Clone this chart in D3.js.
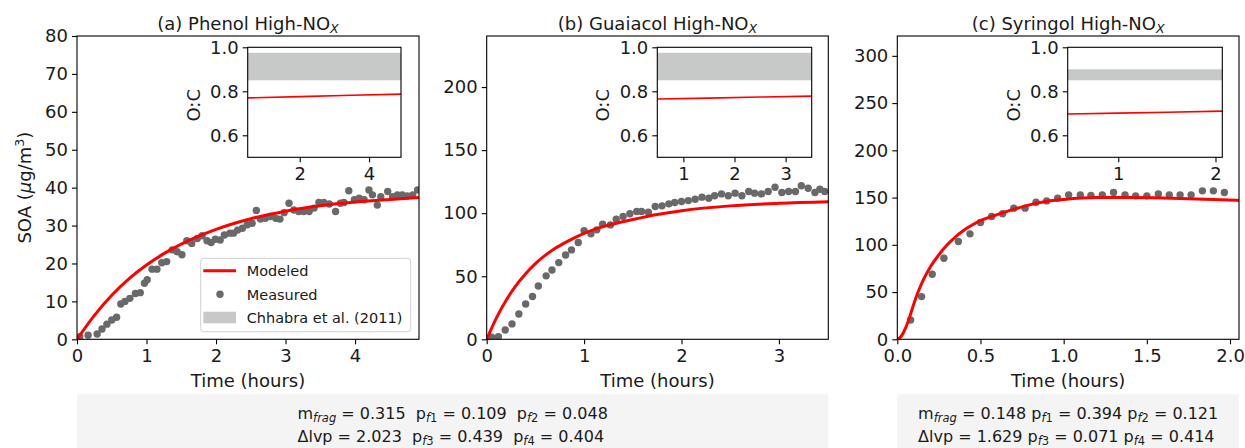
<!DOCTYPE html>
<html>
<head>
<meta charset="utf-8">
<script src="https://cdn.jsdelivr.net/npm/d3@7"></script>
<style>
  body { margin: 0; background: #fff; }
  svg { display: block; font-family: "DejaVu Sans", sans-serif; }
</style>
</head>
<body>
<script>
// ---- Measured SOA (µg/m³) vs time (hours) ----
const phenolTime = [0.04,0.16,0.29,0.36,0.43,0.50,0.57,0.63,0.69,0.76,0.84,0.91,0.97,1.01,1.08,1.15,1.22,1.29,1.37,1.44,1.51,1.58,1.65,1.73,1.80,1.87,1.93,1.99,2.06,2.12,2.20,2.25,2.31,2.38,2.45,2.52,2.58,2.64,2.71,2.78,2.86,2.92,2.98,3.05,3.12,3.19,3.26,3.34,3.41,3.48,3.55,3.63,3.72,3.79,3.84,3.91,3.99,4.06,4.13,4.20,4.25,4.32,4.37,4.47,4.54,4.61,4.68,4.75,4.83,4.90];
const phenolSOA = [0.7,1.1,1.4,2.7,4.0,5.1,5.8,9.3,10.0,10.8,12.1,12.3,14.8,15.7,18.5,18.5,20.2,20.5,23.6,23.1,22.3,26.0,25.3,26.6,27.3,26.0,25.5,26.4,26.2,27.5,28.0,28.0,28.8,29.3,30.2,30.6,34.0,31.7,31.9,32.4,31.9,31.7,33.4,35.9,34.1,33.7,33.7,33.7,34.6,36.1,36.1,35.7,33.7,35.9,36.1,39.2,36.8,37.2,36.8,39.4,38.1,35.4,37.6,39.0,37.6,38.1,38.1,37.8,38.1,39.4];

const guaiacolTime = [0.05,0.12,0.19,0.26,0.33,0.40,0.47,0.53,0.61,0.67,0.74,0.81,0.87,0.94,1.00,1.07,1.13,1.19,1.27,1.33,1.40,1.47,1.54,1.59,1.66,1.73,1.80,1.87,1.93,2.00,2.07,2.14,2.21,2.28,2.34,2.41,2.48,2.55,2.62,2.69,2.75,2.82,2.89,2.96,3.03,3.10,3.17,3.23,3.30,3.37,3.42,3.47];
const guaiacolSOA = [1.6,2.1,7.4,12.2,20.1,28.0,33.9,42.3,50.3,55.0,60.8,66.9,70.9,76.7,86.2,83.6,86.8,91.3,90.7,95.2,97.4,99.5,101.3,101.3,100.8,105.3,105.8,107.4,108.5,109.3,110.0,111.0,112.7,111.9,113.8,115.3,113.8,115.9,113.8,117.2,115.9,115.3,117.2,120.6,116.4,117.2,117.2,121.7,119.8,116.4,119.0,117.2];

const syringolTime = [0.08,0.146,0.21,0.28,0.367,0.437,0.50,0.567,0.633,0.70,0.768,0.834,0.898,0.964,1.03,1.10,1.164,1.232,1.30,1.369,1.433,1.50,1.569,1.635,1.70,1.766,1.834,1.90,1.966];
const syringolSOA = [20.5,45.2,68.9,85.8,103.5,111.6,123.6,129.9,132.8,138.8,138.8,145.1,146.5,149.4,152.9,152.9,152.2,152.9,155.4,152.9,151.8,151.8,153.9,152.9,152.9,152.9,157.1,157.1,155.4];

// ---- Modeled SOA ----
const phenolModelTime = [0,0.25,0.5,0.75,1.0,1.25,1.5,1.75,2.0,2.5,3.0,3.5,4.0,4.5,4.92];
const phenolModelSOA  = [0,6.3,11.6,16.0,19.6,22.6,25.1,27.2,29.0,31.8,33.8,35.2,36.2,36.9,37.4];

const guaiacolModelTime = [0,0.1,0.2,0.3,0.4,0.5,0.6,0.7,0.8,0.9,1.0,1.25,1.5,1.75,2.0,2.5,3.0,3.51];
const guaiacolModelSOA  = [0,17,31,42.5,52,60,66.5,72,76.5,80.5,84,90.5,95,99,102,105.8,107.8,109];

const syringolModelTime = [0,0.025,0.05,0.075,0.1,0.125,0.15,0.2,0.25,0.3,0.35,0.4,0.45,0.5,0.6,0.7,0.8,0.9,1.0,1.2,1.4,1.6,1.8,2.054];
const syringolModelSOA  = [0,3.5,12,24,38,50,60.5,77,89.5,100,108.5,115.5,121,125.5,132,137.5,142.5,146,148,150,150,149.5,148.5,147];

// ---- Modeled O:C and Chhabra et al. (2011) O:C range ----
const phenolOCTime = [0.5,2.0,3.5,4.92];
const phenolOC = [0.770,0.776,0.782,0.787];
const guaiacolOCTime = [0.49,1.5,2.5,3.51];
const guaiacolOC = [0.765,0.769,0.774,0.778];
const syringolOCTime = [0.48,1.0,1.5,2.07];
const syringolOC = [0.697,0.701,0.705,0.710];

const phenolChhabra = [0.85,0.975];
const guaiacolChhabra = [0.85,0.975];
const syringolChhabra = [0.85,0.90];

// ---- Axis ticks ----
const phenolYTicks = [0,10,20,30,40,50,60,70,80];
const guaiacolYTicks = [0,50,100,150,200];
const syringolYTicks = [0,50,100,150,200,250,300];
const phenolXTicks = [0,1,2,3,4];
const guaiacolXTicks = [0,1,2,3];
const syringolXTicks = [0.0,0.5,1.0,1.5,2.0];
const phenolInsetXTicks = [2,4];
const guaiacolInsetXTicks = [1,2,3];
const syringolInsetXTicks = [1,2];
const ocTicks = [0.6,0.8,1.0];

const titles = ["(a) Phenol High-NO", "(b) Guaiacol High-NO", "(c) Syringol High-NO"];
const paramLinesAB = [
  [["m",""],["frag","sub"],[" = 0.315  p",""],["f","subi"],["1","sub"],[" = 0.109  p",""],["f","subi"],["2","sub"],[" = 0.048",""]],
  [["\u0394lvp = 2.023  p",""],["f","subi"],["3","sub"],[" = 0.439  p",""],["f","subi"],["4","sub"],[" = 0.404",""]]
];
const paramLinesC = [
  [["m",""],["frag","sub"],[" = 0.148 p",""],["f","subi"],["1","sub"],[" = 0.394 p",""],["f","subi"],["2","sub"],[" = 0.121",""]],
  [["\u0394lvp = 1.629 p",""],["f","subi"],["3","sub"],[" = 0.071 p",""],["f","subi"],["4","sub"],[" = 0.414",""]]
];

// ---- Layout ----
const W = 1245, H = 448;
const plotTop = 36, plotBottom = 339.3;
const insetTop = 47.3, insetBottom = 157.3;
const RED = "#ff0000", DOT = "#696969", BAND = "#c6c9c7", INK = "#1a1a1a";
const FS = 18;

const panels = [
  { title: titles[0], left: 77, right: 419, xMax: 4.92, yMax: 80,
    xTicks: phenolXTicks, yTicks: phenolYTicks, xFmt: d3.format("d"),
    t: phenolTime, v: phenolSOA, mt: phenolModelTime, mv: phenolModelSOA,
    inset: { left: 247.7, right: 401, xDom: [0.5, 4.92], xTicks: phenolInsetXTicks,
             t: phenolOCTime, v: phenolOC, band: phenolChhabra, xFmt: d3.format("d") },
    ylabel: true, legend: true },
  { title: titles[1], left: 486.7, right: 828.3, xMax: 3.507, yMax: 240.5,
    xTicks: guaiacolXTicks, yTicks: guaiacolYTicks, xFmt: d3.format("d"),
    t: guaiacolTime, v: guaiacolSOA, mt: guaiacolModelTime, mv: guaiacolModelSOA,
    inset: { left: 657.3, right: 811.7, xDom: [0.49, 3.51], xTicks: guaiacolInsetXTicks,
             t: guaiacolOCTime, v: guaiacolOC, band: guaiacolChhabra, xFmt: d3.format("d") } },
  { title: titles[2], left: 897.3, right: 1239, xMax: 2.054, yMax: 321,
    xTicks: syringolXTicks, yTicks: syringolYTicks, xFmt: d3.format(".1f"),
    t: syringolTime, v: syringolSOA, mt: syringolModelTime, mv: syringolModelSOA,
    inset: { left: 1067.7, right: 1222.3, xDom: [0.48, 2.07], xTicks: syringolInsetXTicks,
             t: syringolOCTime, v: syringolOC, band: syringolChhabra, xFmt: d3.format("d") } }
];

const svg = d3.select("body").append("svg").attr("width", W).attr("height", H);
svg.append("rect").attr("width", W).attr("height", H).attr("fill", "#fff");

function styleAxis(g, fs) {
  g.select(".domain").remove();
  g.selectAll(".tick line").attr("stroke", "#000").attr("stroke-width", 1.1);
  g.selectAll(".tick text").attr("fill", INK).attr("font-size", fs)
    .attr("font-family", "DejaVu Sans");
}

function frame(g, x0, y0, x1, y1) {
  g.append("rect").attr("x", x0).attr("y", y0).attr("width", x1 - x0).attr("height", y1 - y0)
    .attr("fill", "none").attr("stroke", "#000").attr("stroke-width", 1.1);
}

panels.forEach((p, i) => {
  const g = svg.append("g");
  const x = d3.scaleLinear().domain([0, p.xMax]).range([p.left, p.right]);
  const y = d3.scaleLinear().domain([0, p.yMax]).range([plotBottom, plotTop]);

  const clipId = "clip" + i;
  svg.append("clipPath").attr("id", clipId).append("rect")
    .attr("x", p.left).attr("y", plotTop).attr("width", p.right - p.left).attr("height", plotBottom - plotTop);

  const data = g.append("g").attr("clip-path", `url(#${clipId})`);
  data.selectAll("circle").data(p.t.map((t, k) => [t, p.v[k]])).join("circle")
    .attr("cx", d => x(d[0])).attr("cy", d => y(d[1])).attr("r", 3.7).attr("fill", DOT);
  const line = d3.line().x(d => x(d[0])).y(d => y(d[1])).curve(d3.curveMonotoneX);
  data.append("path").datum(p.mt.map((t, k) => [t, p.mv[k]]))
    .attr("d", line).attr("fill", "none").attr("stroke", RED).attr("stroke-width", 3);

  const xa = g.append("g").attr("transform", `translate(0,${plotBottom})`)
    .call(d3.axisBottom(x).tickValues(p.xTicks).tickFormat(p.xFmt).tickSize(5).tickPadding(5));
  styleAxis(xa, FS);
  const ya = g.append("g").attr("transform", `translate(${p.left},0)`)
    .call(d3.axisLeft(y).tickValues(p.yTicks).tickFormat(d3.format("d")).tickSize(5).tickPadding(4));
  styleAxis(ya, FS);
  frame(g, p.left, plotTop, p.right, plotBottom);

  // title with subscript X
  const tt = g.append("text").attr("x", (p.left + p.right) / 2).attr("y", 29.5)
    .attr("text-anchor", "middle").attr("font-size", FS).attr("fill", INK).text(p.title);
  tt.append("tspan").attr("font-style", "italic").attr("font-size", 12.6).attr("dy", 3.5).text("X");

  g.append("text").attr("x", (p.left + p.right) / 2).attr("y", 387)
    .attr("text-anchor", "middle").attr("font-size", FS).attr("fill", INK).text("Time (hours)");

  if (p.ylabel) {
    const yl = g.append("text").attr("transform", `translate(31,${(plotTop + plotBottom) / 2}) rotate(-90)`)
      .attr("text-anchor", "middle").attr("font-size", FS).attr("fill", INK);
    yl.append("tspan").text("SOA (");
    yl.append("tspan").attr("font-style", "italic").text("\u03bc");
    yl.append("tspan").text("g/m");
    yl.append("tspan").attr("font-size", 12.6).attr("dy", -7).text("3");
    yl.append("tspan").attr("dy", 7).text(")");
  }

  // inset: O:C ratio
  const ins = p.inset;
  const ix = d3.scaleLinear().domain(ins.xDom).range([ins.left, ins.right]);
  const iy = d3.scaleLinear().domain([0.5, 1.0]).range([insetBottom, insetTop]);
  const ig = g.append("g");
  ig.append("rect").attr("x", ins.left).attr("y", insetTop).attr("width", ins.right - ins.left)
    .attr("height", insetBottom - insetTop).attr("fill", "#fff");
  ig.append("rect").attr("x", ins.left).attr("width", ins.right - ins.left)
    .attr("y", iy(ins.band[1])).attr("height", iy(ins.band[0]) - iy(ins.band[1])).attr("fill", BAND);
  ig.append("path").datum(ins.t.map((t, k) => [t, ins.v[k]]))
    .attr("d", d3.line().x(d => ix(d[0])).y(d => iy(d[1])))
    .attr("fill", "none").attr("stroke", RED).attr("stroke-width", 1.6);
  const ixa = ig.append("g").attr("transform", `translate(0,${insetBottom})`)
    .call(d3.axisBottom(ix).tickValues(ins.xTicks).tickFormat(ins.xFmt).tickSize(5).tickPadding(5));
  styleAxis(ixa, FS);
  const iya = ig.append("g").attr("transform", `translate(${ins.left},0)`)
    .call(d3.axisLeft(iy).tickValues(ocTicks).tickFormat(d3.format(".1f")).tickSize(5).tickPadding(4));
  styleAxis(iya, FS);
  frame(ig, ins.left, insetTop, ins.right, insetBottom);
  ig.append("text").attr("transform", `translate(${ins.left - 48},${(insetTop + insetBottom) / 2 + 3}) rotate(-90)`)
    .attr("text-anchor", "middle").attr("font-size", FS).attr("fill", INK).text("O:C");

  if (p.legend) {
    const lx = p.right - 218.3, ly = plotBottom - 81;
    const lg = g.append("g").attr("transform", `translate(${lx},${ly})`);
    lg.append("rect").attr("width", 210).attr("height", 73.4).attr("rx", 3)
      .attr("fill", "#fff").attr("fill-opacity", 0.8).attr("stroke", "#d0d0d0").attr("stroke-width", 1);
    lg.append("line").attr("x1", 2.6).attr("x2", 35.3).attr("y1", 12.4).attr("y2", 12.4)
      .attr("stroke", RED).attr("stroke-width", 3);
    lg.append("circle").attr("cx", 19.3).attr("cy", 36).attr("r", 3.7).attr("fill", DOT);
    lg.append("rect").attr("x", 2.6).attr("y", 53.4).attr("width", 32.7).attr("height", 11.6).attr("fill", BAND);
    const labels = ["Modeled", "Measured", "Chhabra et al. (2011)"];
    labels.forEach((s, k) => {
      lg.append("text").attr("x", 46).attr("y", [12.4, 36, 59.7][k]).attr("dy", "0.36em")
        .attr("font-size", 14.5).attr("fill", INK).text(s);
    });
  }
});

// parameter boxes
function paramBox(x0, x1, lines) {
  const g = svg.append("g");
  g.append("rect").attr("x", x0).attr("y", 394.3).attr("width", x1 - x0).attr("height", H - 394.3 + 2)
    .attr("fill", "#f4f4f4");
  const texts = lines.map((parts, k) => {
    const t = g.append("text").attr("y", [419, 442.3][k]).attr("font-size", 16).attr("fill", INK)
      .style("white-space", "pre");
    let shifted = false;
    parts.forEach(([s, kind]) => {
      const ts = t.append("tspan").text(s);
      if (kind === "sub" || kind === "subi") {
        ts.attr("font-size", 11.5);
        if (kind === "subi" || s === "frag") ts.attr("font-style", "italic");
        if (!shifted) { ts.attr("dy", 2.5); shifted = true; }
      } else if (shifted) {
        ts.attr("dy", -2.5); shifted = false;
      }
    });
    return t;
  });
  const wMax = d3.max(texts, t => t.node().getComputedTextLength());
  const start = (x0 + x1) / 2 - wMax / 2;
  texts.forEach(t => t.attr("x", start));
}
paramBox(77, 828.3, paramLinesAB);
paramBox(897.3, 1239, paramLinesC);
</script>
</body>
</html>
